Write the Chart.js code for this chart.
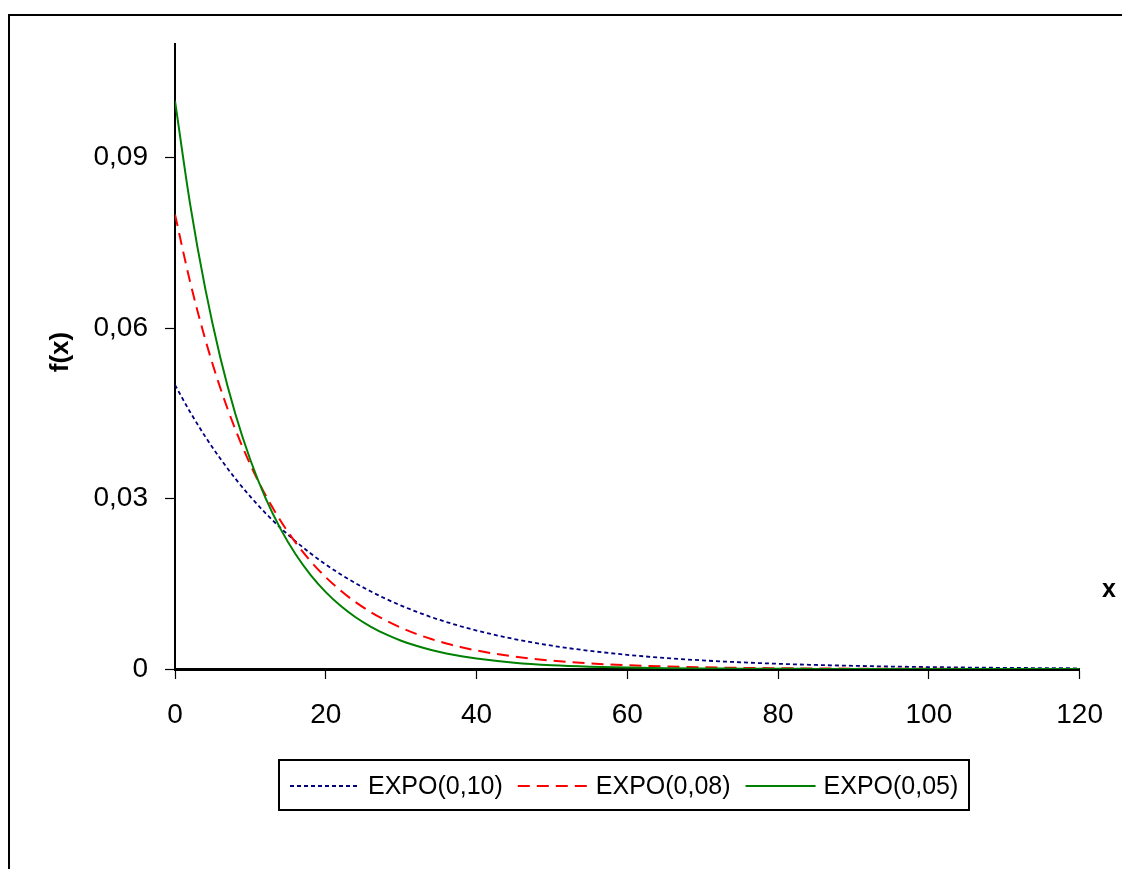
<!DOCTYPE html>
<html>
<head>
<meta charset="utf-8">
<script src="https://cdn.jsdelivr.net/npm/chart.js@4/dist/chart.umd.min.js"></script>
<style>
  html, body { margin: 0; padding: 0; background: #fff; }
  #wrap { width: 1122px; height: 869px; position: relative; }
</style>
</head>
<body>
<div id="wrap"><canvas id="c" width="1122" height="869"></canvas></div>
<script>
// ---- data ----
const xValues = [0, 2, 4, 6, 8, 10, 12, 14, 16, 18, 20, 22, 24, 26, 28, 30, 32, 34, 36, 38, 40,
                 45, 50, 55, 60, 65, 70, 75, 80, 85, 90, 95, 100, 105, 110, 115, 120];

const seriesLabels = ['EXPO(0,10)', 'EXPO(0,08)', 'EXPO(0,05)'];

const expo010 = [0.05, 0.04524, 0.04094, 0.03704, 0.03352, 0.03033, 0.02744, 0.02483, 0.02247, 0.02033,
                 0.01839, 0.01664, 0.01506, 0.01363, 0.01233, 0.01116, 0.01010, 0.00913, 0.00827, 0.00748,
                 0.00677, 0.00527, 0.00410, 0.00320, 0.00249, 0.00194, 0.00151, 0.00118, 0.00092, 0.00071,
                 0.00056, 0.00043, 0.00034, 0.00026, 0.00020, 0.00016, 0.00012];

const expo008 = [0.08, 0.06817, 0.05809, 0.04950, 0.04218, 0.03595, 0.03063, 0.02610, 0.02224, 0.01895,
                 0.01615, 0.01376, 0.01173, 0.00999, 0.00852, 0.00726, 0.00618, 0.00527, 0.00449, 0.00383,
                 0.00326, 0.00219, 0.00147, 0.00098, 0.00066, 0.00044, 0.00030, 0.00020, 0.00013, 0.00009,
                 0.00006, 0.00004, 0.00003, 0.00002, 0.00001, 0.00001, 0.00001];

const expo005 = [0.10, 0.08187, 0.06703, 0.05488, 0.04493, 0.03679, 0.03012, 0.02466, 0.02019, 0.01653,
                 0.01353, 0.01108, 0.00907, 0.00743, 0.00608, 0.00498, 0.00408, 0.00334, 0.00273, 0.00224,
                 0.00183, 0.00111, 0.00067, 0.00041, 0.00025, 0.00015, 0.00009, 0.00006, 0.00003, 0.00002,
                 0.00001, 0.00001, 0.00000, 0.00000, 0.00000, 0.00000, 0.00000];

const xTickValues = [0, 20, 40, 60, 80, 100, 120];
const yTickValues = [0, 0.03, 0.06, 0.09];
const yTickLabels = ['0', '0,03', '0,06', '0,09'];
const yAxisTitle = 'f(x)';
const xAxisTitle = 'x';

// ---- chart ----
const FONT = '"Liberation Sans", Arial, sans-serif';
const toPoints = arr => arr.map((v, i) => ({ x: xValues[i], y: v }));

const styles = [
  { color: '#000080', dash: [4, 3], width: 1.8, order: 3 },
  { color: '#FF0000', dash: [12, 7], width: 2, order: 2 },
  { color: '#008000', dash: [], width: 2, order: 1 }
];
const seriesData = [expo010, expo008, expo005];

const datasets = seriesData.map((arr, i) => ({
  label: seriesLabels[i],
  data: toPoints(arr),
  borderColor: styles[i].color,
  backgroundColor: styles[i].color,
  borderDash: styles[i].dash,
  borderWidth: styles[i].width,
  pointRadius: 0,
  fill: false,
  cubicInterpolationMode: 'monotone',
  order: styles[i].order
}));

const decorPlugin = {
  id: 'decor',
  afterDraw(chart) {
    const ctx = chart.ctx;
    ctx.save();
    // outer frame
    ctx.strokeStyle = '#000';
    ctx.lineWidth = 2;
    ctx.setLineDash([]);
    ctx.strokeRect(9, 15, 1130, 880);

    // axis titles
    ctx.fillStyle = '#000';
    ctx.font = 'bold 26px ' + FONT;
    ctx.textAlign = 'center';
    ctx.textBaseline = 'middle';
    ctx.save();
    ctx.translate(61, 352);
    ctx.rotate(-Math.PI / 2);
    ctx.fillText(yAxisTitle, 0, 0);
    ctx.restore();
    ctx.font = 'bold 25px ' + FONT;
    ctx.fillText(xAxisTitle, 1109, 590);

    // legend
    ctx.lineWidth = 2;
    ctx.strokeStyle = '#000';
    ctx.strokeRect(279, 760, 690, 50);
    ctx.font = '25px ' + FONT;
    ctx.textAlign = 'left';
    ctx.textBaseline = 'middle';
    let x = 290;
    const y = 786;
    chart.data.datasets.forEach((ds, i) => {
      ctx.save();
      ctx.strokeStyle = ds.borderColor;
      ctx.lineWidth = Math.max(ds.borderWidth, 2);
      ctx.setLineDash(ds.borderDash || []);
      ctx.beginPath();
      ctx.moveTo(x, y);
      ctx.lineTo(x + 70, y);
      ctx.stroke();
      ctx.restore();
      x += 78;
      ctx.fillStyle = '#000';
      ctx.fillText(ds.label, x, y + 1);
      x += ctx.measureText(ds.label).width + 15;
    });
    ctx.restore();
  }
};

new Chart(document.getElementById('c'), {
  type: 'line',
  data: { datasets },
  options: {
    responsive: false,
    animation: false,
    devicePixelRatio: 1,
    layout: { padding: { left: 0, top: 44, right: 42, bottom: 0 } },
    plugins: {
      legend: { display: false },
      tooltip: { enabled: false },
      title: { display: false }
    },
    scales: {
      x: {
        type: 'linear',
        min: 0,
        max: 120,
        afterFit(scale) { scale.height = 200; },
        afterBuildTicks(scale) { scale.ticks = xTickValues.map(v => ({ value: v })); },
        grid: {
          display: true,
          drawOnChartArea: false,
          drawTicks: true,
          tickLength: 10,
          tickWidth: 1.2,
          tickColor: '#000'
        },
        border: { display: true, color: '#000', width: 3 },
        ticks: {
          color: '#000',
          font: { family: FONT, size: 28 },
          padding: 19,
          maxRotation: 0,
          autoSkip: false
        }
      },
      y: {
        type: 'linear',
        min: 0,
        max: 0.11,
        afterFit(scale) { scale.width = 175; },
        afterBuildTicks(scale) { scale.ticks = yTickValues.map(v => ({ value: v })); },
        grid: {
          display: true,
          drawOnChartArea: false,
          drawTicks: true,
          tickLength: 10,
          tickWidth: 1.2,
          tickColor: '#000'
        },
        border: { display: true, color: '#000', width: 2 },
        ticks: {
          color: '#000',
          font: { family: FONT, size: 28 },
          padding: 17,
          autoSkip: false,
          callback(value) {
            const idx = yTickValues.findIndex(v => Math.abs(v - value) < 1e-9);
            return idx >= 0 ? yTickLabels[idx] : '';
          }
        }
      }
    }
  },
  plugins: [decorPlugin]
});
</script>
</body>
</html>
